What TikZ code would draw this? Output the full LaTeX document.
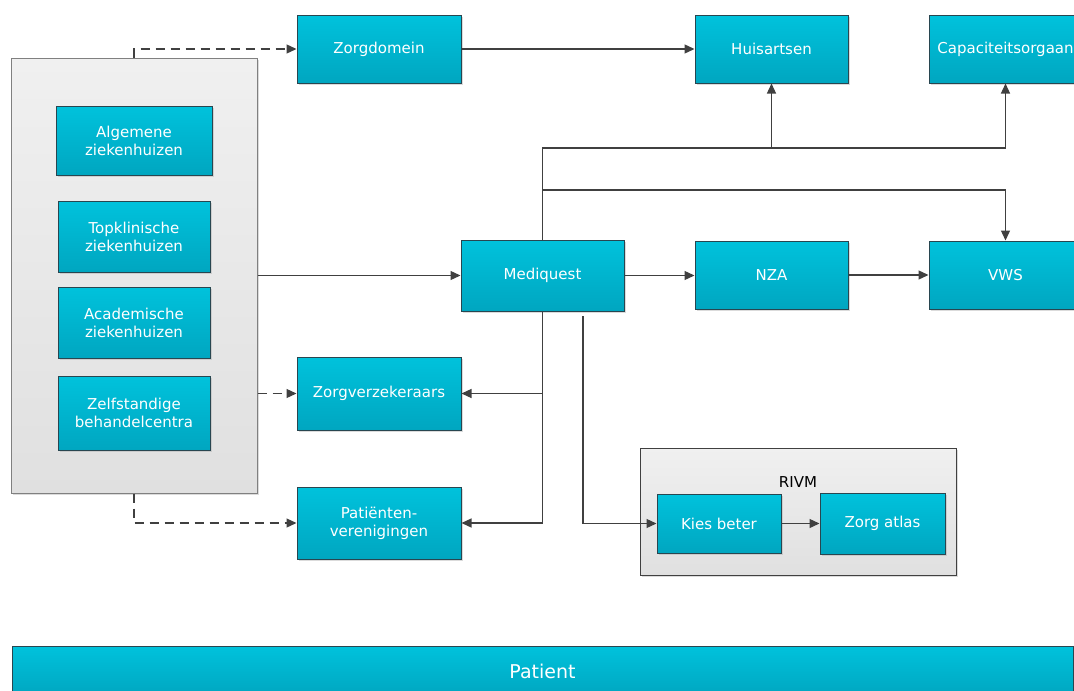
\documentclass[tikz,border=0pt]{standalone}
\usepackage{fontspec}
\setmainfont{DejaVu Sans}
\usetikzlibrary{arrows.meta,shadows}
\definecolor{boxtop}{RGB}{0,194,220}
\definecolor{boxbot}{RGB}{0,166,192}
\definecolor{boxline}{RGB}{40,70,80}
\definecolor{linec}{RGB}{64,64,64}
\definecolor{conttop}{RGB}{240,240,240}
\definecolor{contbot}{RGB}{224,224,224}
\tikzset{
  bluebox/.style={draw=boxline, line width=1pt, top color=boxtop, bottom color=boxbot,
    text=white, font=\fontsize{15}{18}\selectfont, align=center, inner sep=0pt,
    drop shadow={shadow xshift=2pt, shadow yshift=-2pt, fill=black!35, opacity=0.4}},
  contbox/.style={line width=1pt, top color=conttop, bottom color=contbot, inner sep=0pt,
    drop shadow={shadow xshift=2pt, shadow yshift=-2pt, fill=black!35, opacity=0.4}},
  conn/.style={draw=linec, line width=1.3pt, -{Triangle[length=10pt,width=9pt]}},
  dconn/.style={conn, dash pattern=on 9pt off 6pt},
}
\begin{document}
\begin{tikzpicture}[x=1pt,y=-1pt]
\useasboundingbox (0,0) rectangle (1074,691);
\clip (0,0) rectangle (1074,691);
% containers
\node[contbox, draw=black!50, minimum width=246pt, minimum height=435pt] (cont) at (134,275.5) {};
\node[contbox, draw=black!75, minimum width=316pt, minimum height=127pt] (rivm) at (798,511.5) {};
\node[font=\fontsize{15}{18}\selectfont, text=black] (rivml) at (798,482) {RIVM};
% hospital boxes
\node[bluebox, minimum width=156pt, minimum height=69pt] (alg) at (134,140.5) {Algemene\\ziekenhuizen};
\node[bluebox, minimum width=152pt, minimum height=71pt] (top) at (134,236.5) {Topklinische\\ziekenhuizen};
\node[bluebox, minimum width=152pt, minimum height=71pt] (aca) at (134,322.5) {Academische\\ziekenhuizen};
\node[bluebox, minimum width=152pt, minimum height=74pt] (zbc) at (134,413) {Zelfstandige\\behandelcentra};
% other boxes
\node[bluebox, minimum width=164pt, minimum height=68pt] (zd) at (379,49) {Zorgdomein};
\node[bluebox, minimum width=153pt, minimum height=68pt] (ha) at (771.5,49) {Huisartsen};
\node[bluebox, minimum width=153pt, minimum height=68pt] (cap) at (1005.5,49) {Capaciteitsorgaan};
\node[bluebox, minimum width=163pt, minimum height=71pt] (mq) at (542.5,275.5) {Mediquest};
\node[bluebox, minimum width=153pt, minimum height=68pt] (nza) at (771.5,275) {NZA};
\node[bluebox, minimum width=153pt, minimum height=68pt] (vws) at (1005.5,275) {VWS};
\node[bluebox, minimum width=164pt, minimum height=73pt] (zv) at (379,393.5) {Zorgverzekeraars};
\node[bluebox, minimum width=164pt, minimum height=72pt] (pv) at (379,523) {Patiënten-\\verenigingen};
\node[bluebox, minimum width=124pt, minimum height=59pt] (kb) at (719,523.5) {Kies beter};
\node[bluebox, minimum width=125pt, minimum height=61pt] (za) at (882.5,523.5) {Zorg atlas};
\node[bluebox, minimum width=1061pt, minimum height=50pt, font=\fontsize{19}{22}\selectfont] (pat) at (542.5,671) {Patient};
% helper coordinates
\coordinate (hb) at (771.5,148);
\coordinate (vb) at (541,190);
\coordinate (ks) at (583,316);
% dashed connectors
\draw[dconn] (cont.north) |- (zd.west);
\draw[dconn] (cont.east |- zv.west) -- (zv.west);
\draw[dconn] (cont.south) |- (pv.west);
% solid connectors
\draw[conn] (cont.east |- mq.west) -- (mq.west);
\draw[conn] (zd.east) -- (ha.west);
\draw[conn] (mq.north) -- (mq.north |- hb) -| (cap.south);
\draw[conn] (hb) -- (ha.south);
\draw[conn] (mq.north |- vb) -| (vws.north);
\draw[conn] (mq.east) -- (nza.west |- mq.east);
\draw[conn] (nza.east) -- (vws.west);
\draw[conn] (mq.south) |- (pv.east);
\draw[conn] (mq.south |- zv.east) -- (zv.east);
\draw[conn] (ks) |- (kb.west);
\draw[conn] (kb.east) -- (za.west |- kb.east);
\end{tikzpicture}
\end{document}
